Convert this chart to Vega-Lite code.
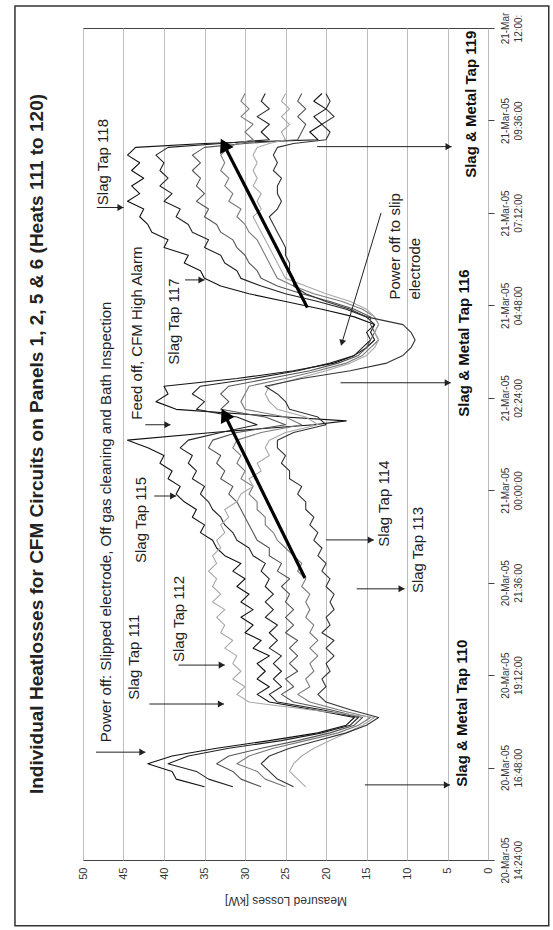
{
"$schema": "https://vega.github.io/schema/vega-lite/v6.json",
"width": 405, "height": 832,
"autosize": "none",
"padding": {"left": 83, "top": 28, "right": 65, "bottom": 70},
"background": "white",
"title": {"text": "Individual Heatlosses for CFM Circuits on Panels 1, 2, 5 & 6 (Heats 111 to 120)", "orient": "left", "anchor": "middle", "frame": "group", "offset": -33, "fontSize": 19, "fontWeight": "bold", "font": "Liberation Sans", "color": "#222"},
"config": {"view": {"stroke": "#444", "strokeWidth": 1}, "font": "Liberation Sans"},
"datasets": {
"series": [
{"s":"A","h":1.9,"v":35},{"s":"A","h":2.1,"v":38.5},{"s":"A","h":2.3,"v":39},{"s":"A","h":2.5,"v":42},{"s":"A","h":2.7,"v":39},{"s":"A","h":2.9,"v":33.5},{"s":"A","h":3.1,"v":27},{"s":"A","h":3.3,"v":21},{"s":"A","h":3.5,"v":17.5},{"s":"A","h":3.7,"v":16.5},{"s":"A","h":3.9,"v":21.5},{"s":"A","h":4.1,"v":27},{"s":"A","h":4.3,"v":28.5},{"s":"A","h":4.5,"v":27},{"s":"A","h":4.7,"v":28.5},{"s":"A","h":4.9,"v":27.5},{"s":"A","h":5.1,"v":28.5},{"s":"A","h":5.3,"v":27},{"s":"A","h":5.5,"v":29},{"s":"A","h":5.7,"v":28},{"s":"A","h":5.9,"v":30},{"s":"A","h":6.1,"v":29},{"s":"A","h":6.3,"v":30.5},{"s":"A","h":6.5,"v":29},{"s":"A","h":6.7,"v":30.5},{"s":"A","h":6.9,"v":29.5},{"s":"A","h":7.1,"v":31},{"s":"A","h":7.3,"v":30},{"s":"A","h":7.5,"v":31.5},{"s":"A","h":7.7,"v":30.5},{"s":"A","h":7.9,"v":32.5},{"s":"A","h":8.1,"v":33.5},{"s":"A","h":8.3,"v":34},{"s":"A","h":8.5,"v":35.5},{"s":"A","h":8.7,"v":35},{"s":"A","h":8.9,"v":36.5},{"s":"A","h":9.1,"v":36},{"s":"A","h":9.3,"v":37.5},{"s":"A","h":9.5,"v":38.5},{"s":"A","h":9.7,"v":38},{"s":"A","h":9.9,"v":39.5},{"s":"A","h":10.1,"v":39},{"s":"A","h":10.3,"v":40.5},{"s":"A","h":10.5,"v":40},{"s":"A","h":10.7,"v":42},{"s":"A","h":10.9,"v":44.5},{"s":"A","h":11.1,"v":34},{"s":"A","h":11.3,"v":21.5},{"s":"A","h":11.4,"v":17.5},{"s":"A","h":11.5,"v":25},{"s":"A","h":11.7,"v":38.5},{"s":"A","h":11.9,"v":41},{"s":"A","h":12.1,"v":39.5},{"s":"A","h":12.3,"v":40},{"s":"A","h":12.5,"v":31},{"s":"A","h":12.7,"v":24},{"s":"A","h":12.9,"v":19},{"s":"A","h":13.1,"v":16.5},{"s":"A","h":13.3,"v":15},{"s":"A","h":13.5,"v":14},{"s":"A","h":13.7,"v":14.5},{"s":"A","h":13.9,"v":14},{"s":"A","h":14.1,"v":16.5},{"s":"A","h":14.3,"v":20.5},{"s":"A","h":14.5,"v":25},{"s":"A","h":14.7,"v":29.5},{"s":"A","h":14.9,"v":33},{"s":"A","h":15.1,"v":35},{"s":"A","h":15.3,"v":35.5},{"s":"A","h":15.5,"v":37.5},{"s":"A","h":15.7,"v":37},{"s":"A","h":15.9,"v":40},{"s":"A","h":16.1,"v":39.5},{"s":"A","h":16.3,"v":41.5},{"s":"A","h":16.5,"v":42},{"s":"A","h":16.7,"v":43},{"s":"A","h":16.9,"v":42.5},{"s":"A","h":17.1,"v":44.5},{"s":"A","h":17.3,"v":43},{"s":"A","h":17.5,"v":44},{"s":"A","h":17.7,"v":42.5},{"s":"A","h":17.9,"v":44},{"s":"A","h":18.1,"v":43},{"s":"A","h":18.3,"v":44.5},{"s":"A","h":18.5,"v":43.5},{"s":"A","h":18.6,"v":35},{"s":"A","h":18.7,"v":21},{"s":"A","h":18.9,"v":22},{"s":"A","h":19.1,"v":20.5},{"s":"A","h":19.3,"v":21.5},{"s":"A","h":19.5,"v":20},{"s":"A","h":19.7,"v":21.5},{"s":"A","h":19.9,"v":20.5},
{"s":"B","h":1.9,"v":31.5},{"s":"B","h":2.1,"v":34.5},{"s":"B","h":2.3,"v":36},{"s":"B","h":2.5,"v":39.5},{"s":"B","h":2.7,"v":37},{"s":"B","h":2.9,"v":32},{"s":"B","h":3.1,"v":25.5},{"s":"B","h":3.3,"v":20.5},{"s":"B","h":3.5,"v":17},{"s":"B","h":3.7,"v":16},{"s":"B","h":3.9,"v":20.5},{"s":"B","h":4.1,"v":26},{"s":"B","h":4.3,"v":27},{"s":"B","h":4.5,"v":25.5},{"s":"B","h":4.7,"v":26.5},{"s":"B","h":4.9,"v":25.5},{"s":"B","h":5.1,"v":26.5},{"s":"B","h":5.3,"v":25.5},{"s":"B","h":5.5,"v":27},{"s":"B","h":5.7,"v":26},{"s":"B","h":5.9,"v":27},{"s":"B","h":6.1,"v":26},{"s":"B","h":6.3,"v":27.5},{"s":"B","h":6.5,"v":26.5},{"s":"B","h":6.7,"v":27.5},{"s":"B","h":6.9,"v":26.5},{"s":"B","h":7.1,"v":27.5},{"s":"B","h":7.3,"v":27},{"s":"B","h":7.5,"v":28},{"s":"B","h":7.7,"v":27.5},{"s":"B","h":7.9,"v":29},{"s":"B","h":8.1,"v":29.5},{"s":"B","h":8.3,"v":31},{"s":"B","h":8.5,"v":31.5},{"s":"B","h":8.7,"v":32.5},{"s":"B","h":8.9,"v":33},{"s":"B","h":9.1,"v":34},{"s":"B","h":9.3,"v":34.5},{"s":"B","h":9.5,"v":35.5},{"s":"B","h":9.7,"v":35},{"s":"B","h":9.9,"v":36.5},{"s":"B","h":10.1,"v":36},{"s":"B","h":10.3,"v":37},{"s":"B","h":10.5,"v":36.5},{"s":"B","h":10.7,"v":38},{"s":"B","h":10.9,"v":37},{"s":"B","h":11.1,"v":33},{"s":"B","h":11.3,"v":28.5},{"s":"B","h":11.5,"v":31},{"s":"B","h":11.7,"v":36},{"s":"B","h":11.9,"v":35},{"s":"B","h":12.1,"v":36.5},{"s":"B","h":12.3,"v":35.5},{"s":"B","h":12.5,"v":29},{"s":"B","h":12.7,"v":23.5},{"s":"B","h":12.9,"v":19.5},{"s":"B","h":13.1,"v":16.5},{"s":"B","h":13.3,"v":15.5},{"s":"B","h":13.5,"v":14.5},{"s":"B","h":13.7,"v":15},{"s":"B","h":13.9,"v":14},{"s":"B","h":14.1,"v":15},{"s":"B","h":14.3,"v":17.5},{"s":"B","h":14.5,"v":21},{"s":"B","h":14.7,"v":25},{"s":"B","h":14.9,"v":28},{"s":"B","h":15.1,"v":30.5},{"s":"B","h":15.3,"v":31},{"s":"B","h":15.5,"v":32.5},{"s":"B","h":15.7,"v":33},{"s":"B","h":15.9,"v":35},{"s":"B","h":16.1,"v":34.5},{"s":"B","h":16.3,"v":36.5},{"s":"B","h":16.5,"v":37},{"s":"B","h":16.7,"v":38.5},{"s":"B","h":16.9,"v":38},{"s":"B","h":17.1,"v":40},{"s":"B","h":17.3,"v":39},{"s":"B","h":17.5,"v":40.5},{"s":"B","h":17.7,"v":39.5},{"s":"B","h":17.9,"v":40.5},{"s":"B","h":18.1,"v":40},{"s":"B","h":18.3,"v":41},{"s":"B","h":18.5,"v":39.5},{"s":"B","h":18.6,"v":33},{"s":"B","h":18.7,"v":27},{"s":"B","h":18.9,"v":28},{"s":"B","h":19.1,"v":27},{"s":"B","h":19.3,"v":28.5},{"s":"B","h":19.5,"v":27},{"s":"B","h":19.7,"v":28},{"s":"B","h":19.9,"v":27.5},
{"s":"C","h":1.9,"v":28},{"s":"C","h":2.1,"v":30.5},{"s":"C","h":2.3,"v":31.5},{"s":"C","h":2.5,"v":33.5},{"s":"C","h":2.7,"v":32},{"s":"C","h":2.9,"v":28},{"s":"C","h":3.1,"v":23.5},{"s":"C","h":3.3,"v":19.5},{"s":"C","h":3.5,"v":16.5},{"s":"C","h":3.7,"v":15.5},{"s":"C","h":3.9,"v":19.5},{"s":"C","h":4.1,"v":24},{"s":"C","h":4.3,"v":25.5},{"s":"C","h":4.5,"v":24},{"s":"C","h":4.7,"v":25},{"s":"C","h":4.9,"v":23.5},{"s":"C","h":5.1,"v":24.5},{"s":"C","h":5.3,"v":23.5},{"s":"C","h":5.5,"v":24.5},{"s":"C","h":5.7,"v":23.5},{"s":"C","h":5.9,"v":25},{"s":"C","h":6.1,"v":24},{"s":"C","h":6.3,"v":25},{"s":"C","h":6.5,"v":24},{"s":"C","h":6.7,"v":25},{"s":"C","h":6.9,"v":24.5},{"s":"C","h":7.1,"v":25.5},{"s":"C","h":7.3,"v":24.5},{"s":"C","h":7.5,"v":26},{"s":"C","h":7.7,"v":25.5},{"s":"C","h":7.9,"v":27},{"s":"C","h":8.1,"v":27},{"s":"C","h":8.3,"v":28.5},{"s":"C","h":8.5,"v":29},{"s":"C","h":8.7,"v":29.5},{"s":"C","h":8.9,"v":30},{"s":"C","h":9.1,"v":30.5},{"s":"C","h":9.3,"v":31},{"s":"C","h":9.5,"v":32},{"s":"C","h":9.7,"v":31.5},{"s":"C","h":9.9,"v":33},{"s":"C","h":10.1,"v":32.5},{"s":"C","h":10.3,"v":33.5},{"s":"C","h":10.5,"v":33},{"s":"C","h":10.7,"v":34.5},{"s":"C","h":10.9,"v":34},{"s":"C","h":11.1,"v":31},{"s":"C","h":11.3,"v":25},{"s":"C","h":11.5,"v":27.5},{"s":"C","h":11.7,"v":33},{"s":"C","h":11.9,"v":32},{"s":"C","h":12.1,"v":33},{"s":"C","h":12.3,"v":32},{"s":"C","h":12.5,"v":27},{"s":"C","h":12.7,"v":22},{"s":"C","h":12.9,"v":18.5},{"s":"C","h":13.1,"v":16},{"s":"C","h":13.3,"v":15},{"s":"C","h":13.5,"v":14.5},{"s":"C","h":13.7,"v":14},{"s":"C","h":13.9,"v":14.5},{"s":"C","h":14.1,"v":14.5},{"s":"C","h":14.3,"v":16.5},{"s":"C","h":14.5,"v":19.5},{"s":"C","h":14.7,"v":23},{"s":"C","h":14.9,"v":26},{"s":"C","h":15.1,"v":28},{"s":"C","h":15.3,"v":28.5},{"s":"C","h":15.5,"v":29.5},{"s":"C","h":15.7,"v":30},{"s":"C","h":15.9,"v":31},{"s":"C","h":16.1,"v":31.5},{"s":"C","h":16.3,"v":33},{"s":"C","h":16.5,"v":33.5},{"s":"C","h":16.7,"v":35},{"s":"C","h":16.9,"v":34.5},{"s":"C","h":17.1,"v":36},{"s":"C","h":17.3,"v":35},{"s":"C","h":17.5,"v":36},{"s":"C","h":17.7,"v":35.5},{"s":"C","h":17.9,"v":36.5},{"s":"C","h":18.1,"v":35.5},{"s":"C","h":18.3,"v":36.5},{"s":"C","h":18.5,"v":35},{"s":"C","h":18.6,"v":30},{"s":"C","h":18.7,"v":23.5},{"s":"C","h":18.9,"v":23},{"s":"C","h":19.1,"v":22.5},{"s":"C","h":19.3,"v":23.5},{"s":"C","h":19.5,"v":22.5},{"s":"C","h":19.7,"v":23.5},{"s":"C","h":19.9,"v":23},
{"s":"D","h":1.9,"v":25},{"s":"D","h":2.1,"v":27.5},{"s":"D","h":2.3,"v":28.5},{"s":"D","h":2.5,"v":31},{"s":"D","h":2.7,"v":29.5},{"s":"D","h":2.9,"v":26.5},{"s":"D","h":3.1,"v":22.5},{"s":"D","h":3.3,"v":18.5},{"s":"D","h":3.5,"v":16},{"s":"D","h":3.7,"v":14.5},{"s":"D","h":3.9,"v":18.5},{"s":"D","h":4.1,"v":22},{"s":"D","h":4.3,"v":23.5},{"s":"D","h":4.5,"v":22},{"s":"D","h":4.7,"v":22.5},{"s":"D","h":4.9,"v":21.5},{"s":"D","h":5.1,"v":22},{"s":"D","h":5.3,"v":21},{"s":"D","h":5.5,"v":22},{"s":"D","h":5.7,"v":21},{"s":"D","h":5.9,"v":22},{"s":"D","h":6.1,"v":21.5},{"s":"D","h":6.3,"v":22.5},{"s":"D","h":6.5,"v":22},{"s":"D","h":6.7,"v":22.5},{"s":"D","h":6.9,"v":22},{"s":"D","h":7.1,"v":23},{"s":"D","h":7.3,"v":22.5},{"s":"D","h":7.5,"v":23.5},{"s":"D","h":7.7,"v":23},{"s":"D","h":7.9,"v":24},{"s":"D","h":8.1,"v":25},{"s":"D","h":8.3,"v":26},{"s":"D","h":8.5,"v":26.5},{"s":"D","h":8.7,"v":27.5},{"s":"D","h":8.9,"v":27.5},{"s":"D","h":9.1,"v":28.5},{"s":"D","h":9.3,"v":28.5},{"s":"D","h":9.5,"v":29.5},{"s":"D","h":9.7,"v":29},{"s":"D","h":9.9,"v":30.5},{"s":"D","h":10.1,"v":30},{"s":"D","h":10.3,"v":31},{"s":"D","h":10.5,"v":30.5},{"s":"D","h":10.7,"v":31.5},{"s":"D","h":10.9,"v":31},{"s":"D","h":11.1,"v":28},{"s":"D","h":11.3,"v":23},{"s":"D","h":11.5,"v":25},{"s":"D","h":11.7,"v":30},{"s":"D","h":11.9,"v":30.5},{"s":"D","h":12.1,"v":30},{"s":"D","h":12.3,"v":29.5},{"s":"D","h":12.5,"v":25},{"s":"D","h":12.7,"v":21},{"s":"D","h":12.9,"v":17.5},{"s":"D","h":13.1,"v":15.5},{"s":"D","h":13.3,"v":14.5},{"s":"D","h":13.5,"v":13.5},{"s":"D","h":13.7,"v":14},{"s":"D","h":13.9,"v":13.5},{"s":"D","h":14.1,"v":14},{"s":"D","h":14.3,"v":15.5},{"s":"D","h":14.5,"v":18},{"s":"D","h":14.7,"v":21.5},{"s":"D","h":14.9,"v":24},{"s":"D","h":15.1,"v":26},{"s":"D","h":15.3,"v":26.5},{"s":"D","h":15.5,"v":27},{"s":"D","h":15.7,"v":27.5},{"s":"D","h":15.9,"v":28},{"s":"D","h":16.1,"v":28.5},{"s":"D","h":16.3,"v":29.5},{"s":"D","h":16.5,"v":30},{"s":"D","h":16.7,"v":31},{"s":"D","h":16.9,"v":30.5},{"s":"D","h":17.1,"v":32},{"s":"D","h":17.3,"v":31.5},{"s":"D","h":17.5,"v":32.5},{"s":"D","h":17.7,"v":32},{"s":"D","h":17.9,"v":33},{"s":"D","h":18.1,"v":32.5},{"s":"D","h":18.3,"v":33},{"s":"D","h":18.5,"v":32},{"s":"D","h":18.6,"v":31},{"s":"D","h":18.7,"v":29},{"s":"D","h":18.9,"v":30},{"s":"D","h":19.1,"v":29},{"s":"D","h":19.3,"v":30.5},{"s":"D","h":19.5,"v":29.5},{"s":"D","h":19.7,"v":30.5},{"s":"D","h":19.9,"v":30},
{"s":"E","h":1.9,"v":22.5},{"s":"E","h":2.1,"v":23.5},{"s":"E","h":2.3,"v":24.5},{"s":"E","h":2.5,"v":24},{"s":"E","h":2.7,"v":23},{"s":"E","h":2.9,"v":21.5},{"s":"E","h":3.1,"v":19.5},{"s":"E","h":3.3,"v":17.5},{"s":"E","h":3.5,"v":15.5},{"s":"E","h":3.7,"v":14},{"s":"E","h":3.9,"v":22},{"s":"E","h":4.1,"v":29.5},{"s":"E","h":4.3,"v":31},{"s":"E","h":4.5,"v":30},{"s":"E","h":4.7,"v":31.5},{"s":"E","h":4.9,"v":30.5},{"s":"E","h":5.1,"v":31.5},{"s":"E","h":5.3,"v":31},{"s":"E","h":5.5,"v":32.5},{"s":"E","h":5.7,"v":31.5},{"s":"E","h":5.9,"v":33},{"s":"E","h":6.1,"v":32.5},{"s":"E","h":6.3,"v":33.5},{"s":"E","h":6.5,"v":32.5},{"s":"E","h":6.7,"v":34},{"s":"E","h":6.9,"v":33},{"s":"E","h":7.1,"v":34},{"s":"E","h":7.3,"v":33.5},{"s":"E","h":7.5,"v":34.5},{"s":"E","h":7.7,"v":33.5},{"s":"E","h":7.9,"v":34},{"s":"E","h":8.1,"v":33},{"s":"E","h":8.3,"v":33.5},{"s":"E","h":8.5,"v":32.5},{"s":"E","h":8.7,"v":33},{"s":"E","h":8.9,"v":32},{"s":"E","h":9.1,"v":32.5},{"s":"E","h":9.3,"v":31},{"s":"E","h":9.5,"v":30.5},{"s":"E","h":9.7,"v":29},{"s":"E","h":9.9,"v":29.5},{"s":"E","h":10.1,"v":28},{"s":"E","h":10.3,"v":28.5},{"s":"E","h":10.5,"v":27},{"s":"E","h":10.7,"v":27.5},{"s":"E","h":10.9,"v":27},{"s":"E","h":11.1,"v":25},{"s":"E","h":11.3,"v":21},{"s":"E","h":11.5,"v":22.5},{"s":"E","h":11.7,"v":26},{"s":"E","h":11.9,"v":27},{"s":"E","h":12.1,"v":27.5},{"s":"E","h":12.3,"v":27},{"s":"E","h":12.5,"v":23.5},{"s":"E","h":12.7,"v":20},{"s":"E","h":12.9,"v":17},{"s":"E","h":13.1,"v":15},{"s":"E","h":13.3,"v":14},{"s":"E","h":13.5,"v":13.5},{"s":"E","h":13.7,"v":14},{"s":"E","h":13.9,"v":13.5},{"s":"E","h":14.1,"v":14},{"s":"E","h":14.3,"v":15},{"s":"E","h":14.5,"v":17},{"s":"E","h":14.7,"v":20},{"s":"E","h":14.9,"v":22.5},{"s":"E","h":15.1,"v":25},{"s":"E","h":15.3,"v":25.5},{"s":"E","h":15.5,"v":26},{"s":"E","h":15.7,"v":26.5},{"s":"E","h":15.9,"v":27},{"s":"E","h":16.1,"v":27.5},{"s":"E","h":16.3,"v":28},{"s":"E","h":16.5,"v":28.5},{"s":"E","h":16.7,"v":29},{"s":"E","h":16.9,"v":28},{"s":"E","h":17.1,"v":28.5},{"s":"E","h":17.3,"v":28},{"s":"E","h":17.5,"v":29},{"s":"E","h":17.7,"v":28.5},{"s":"E","h":17.9,"v":29},{"s":"E","h":18.1,"v":28.5},{"s":"E","h":18.3,"v":29},{"s":"E","h":18.5,"v":28.5},{"s":"E","h":18.6,"v":27},{"s":"E","h":18.7,"v":25},{"s":"E","h":18.9,"v":25.5},{"s":"E","h":19.1,"v":24.5},{"s":"E","h":19.3,"v":25.5},{"s":"E","h":19.5,"v":24.5},{"s":"E","h":19.7,"v":25.5},{"s":"E","h":19.9,"v":25},
{"s":"F","h":1.9,"v":24},{"s":"F","h":2.1,"v":26},{"s":"F","h":2.3,"v":27},{"s":"F","h":2.5,"v":28},{"s":"F","h":2.7,"v":27},{"s":"F","h":2.9,"v":24.5},{"s":"F","h":3.1,"v":21},{"s":"F","h":3.3,"v":17.5},{"s":"F","h":3.5,"v":15},{"s":"F","h":3.7,"v":13.5},{"s":"F","h":3.9,"v":17},{"s":"F","h":4.1,"v":20},{"s":"F","h":4.3,"v":21},{"s":"F","h":4.5,"v":20},{"s":"F","h":4.7,"v":20.5},{"s":"F","h":4.9,"v":19.5},{"s":"F","h":5.1,"v":20},{"s":"F","h":5.3,"v":19},{"s":"F","h":5.5,"v":20},{"s":"F","h":5.7,"v":19},{"s":"F","h":5.9,"v":20.5},{"s":"F","h":6.1,"v":19.5},{"s":"F","h":6.3,"v":20},{"s":"F","h":6.5,"v":19},{"s":"F","h":6.7,"v":19.5},{"s":"F","h":6.9,"v":19},{"s":"F","h":7.1,"v":20},{"s":"F","h":7.3,"v":19.5},{"s":"F","h":7.5,"v":20.5},{"s":"F","h":7.7,"v":20},{"s":"F","h":7.9,"v":21},{"s":"F","h":8.1,"v":20.5},{"s":"F","h":8.3,"v":21.5},{"s":"F","h":8.5,"v":21},{"s":"F","h":8.7,"v":22},{"s":"F","h":8.9,"v":21.5},{"s":"F","h":9.1,"v":22.5},{"s":"F","h":9.3,"v":22.5},{"s":"F","h":9.5,"v":23.5},{"s":"F","h":9.7,"v":23},{"s":"F","h":9.9,"v":24.5},{"s":"F","h":10.1,"v":24.5},{"s":"F","h":10.3,"v":25.5},{"s":"F","h":10.5,"v":25},{"s":"F","h":10.7,"v":26},{"s":"F","h":10.9,"v":26},{"s":"F","h":11.1,"v":24},{"s":"F","h":11.3,"v":20},{"s":"F","h":11.5,"v":21},{"s":"F","h":11.7,"v":24.5},{"s":"F","h":11.9,"v":25},{"s":"F","h":12.1,"v":26},{"s":"F","h":12.3,"v":27.5},{"s":"F","h":12.5,"v":23},{"s":"F","h":12.7,"v":17},{"s":"F","h":12.9,"v":12.5},{"s":"F","h":13.1,"v":10.5},{"s":"F","h":13.3,"v":9.5},{"s":"F","h":13.5,"v":9},{"s":"F","h":13.7,"v":9.5},{"s":"F","h":13.9,"v":10.5},{"s":"F","h":14.1,"v":15},{"s":"F","h":14.3,"v":17},{"s":"F","h":14.5,"v":20},{"s":"F","h":14.7,"v":22.5},{"s":"F","h":14.9,"v":24},{"s":"F","h":15.1,"v":24},{"s":"F","h":15.3,"v":24.5},{"s":"F","h":15.5,"v":24.5},{"s":"F","h":15.7,"v":25},{"s":"F","h":15.9,"v":25},{"s":"F","h":16.1,"v":25.5},{"s":"F","h":16.3,"v":26},{"s":"F","h":16.5,"v":26.5},{"s":"F","h":16.7,"v":27},{"s":"F","h":16.9,"v":26},{"s":"F","h":17.1,"v":25.5},{"s":"F","h":17.3,"v":26},{"s":"F","h":17.5,"v":26},{"s":"F","h":17.7,"v":25.5},{"s":"F","h":17.9,"v":26.5},{"s":"F","h":18.1,"v":26},{"s":"F","h":18.3,"v":26.5},{"s":"F","h":18.5,"v":26},{"s":"F","h":18.6,"v":24},{"s":"F","h":18.7,"v":20},{"s":"F","h":18.9,"v":19.5},{"s":"F","h":19.1,"v":20.5},{"s":"F","h":19.3,"v":19},{"s":"F","h":19.5,"v":20},{"s":"F","h":19.7,"v":19.5},{"s":"F","h":19.9,"v":20}
],
"arrows": [
{"id":"a1","k":"h","v":48.4,"h":2.8,"v2":42.3,"h2":2.8},
{"id":"a2","k":"h","v":41.8,"h":4.05,"v2":32.6,"h2":4.05},
{"id":"a3","k":"h","v":38.2,"h":5.06,"v2":32.5,"h2":5.06},
{"id":"a4","k":"h","v":16.2,"h":7.04,"v2":10.3,"h2":7.04},
{"id":"a5","k":"h","v":20.0,"h":8.31,"v2":14.1,"h2":8.31},
{"id":"a6","k":"h","v":41.2,"h":9.45,"v2":38.5,"h2":9.45},
{"id":"a7","k":"h","v":42.3,"h":11.3,"v2":39.2,"h2":11.3},
{"id":"a8","k":"h","v":37.4,"h":15.06,"v2":35.0,"h2":15.06},
{"id":"a9","k":"h","v":48.3,"h":16.94,"v2":45.0,"h2":16.94},
{"id":"a10","k":"h","v":15.2,"h":1.95,"v2":4.7,"h2":1.95},
{"id":"a11","k":"h","v":18.2,"h":12.39,"v2":4.6,"h2":12.39},
{"id":"a12","k":"h","v":21.1,"h":18.52,"v2":4.5,"h2":18.52},
{"id":"d1","k":"d","v":13.2,"h":16.8,"v2":18.1,"h2":13.38},
{"id":"t1","k":"t","v":22.6,"h":7.32,"v2":32.7,"h2":11.64},
{"id":"t2","k":"t","v":22.3,"h":14.34,"v2":32.8,"h2":18.65}
],
"notes": [
{"k":"n","t":"Power off: Slipped electrode, Off gas cleaning and Bath Inspection","v":47.2,"h":3.06},
{"k":"n","t":"Slag Tap 111","v":43.7,"h":4.16},
{"k":"n","t":"Slag Tap 112","v":38.1,"h":5.14},
{"k":"n","t":"Slag Tap 113","v":8.6,"h":6.93},
{"k":"n","t":"Slag Tap 114","v":12.9,"h":8.13},
{"k":"n","t":"Slag Tap 115","v":42.9,"h":7.71},
{"k":"n","t":"Feed off, CFM High Alarm","v":43.3,"h":11.43},
{"k":"n","t":"Slag Tap 117","v":38.8,"h":12.86},
{"k":"n","t":"Slag Tap 118","v":47.5,"h":17.0},
{"k":"n","t":"Power off to slip","v":11.5,"h":14.55},
{"k":"n","t":"electrode","v":9.0,"h":14.55},
{"k":"b","t":"Slag & Metal Tap 110","v":3.2,"h":1.9},
{"k":"b","t":"Slag & Metal Tap 116","v":3.0,"h":11.51},
{"k":"b","t":"Slag & Metal Tap 119","v":2.1,"h":17.71}
]
},
"layer": [
{"data": {"name": "series"},
 "mark": {"type": "line", "strokeJoin": "round"},
 "encoding": {
  "x": {"field": "v", "type": "quantitative", "scale": {"domain": [0, 50], "reverse": true, "nice": false, "zero": false},
   "axis": {"orient": "bottom", "values": [0,5,10,15,20,25,30,35,40,45,50], "grid": true, "gridColor": "#bdbdbd", "gridWidth": 1, "domain": false, "ticks": false, "tickSize": 0, "labelAngle": 270, "labelAlign": "right", "labelBaseline": "middle", "labelPadding": 7, "labelFontSize": 11, "labelColor": "#333", "labelFont": "Liberation Sans", "labelFlush": false, "labelOverlap": false, "title": "Measured Losses [kW]", "titleAngle": 180, "titleBaseline": "bottom", "titleFontWeight": "normal", "titleFontSize": 12, "titlePadding": 14, "titleColor": "#333", "titleFont": "Liberation Sans"}},
  "y": {"field": "h", "type": "quantitative", "scale": {"domain": [0, 21.6], "nice": false, "zero": false},
   "axis": {"orient": "right", "values": [0,2.4,4.8,7.2,9.6,12,14.4,16.8,19.2,21.6], "grid": false, "domain": false, "ticks": true, "tickSize": 6, "tickColor": "#444", "labelAngle": 270,
    "labelAlign": "center",
    "labelBaseline": "top", "labelPadding": 6, "labelFontSize": 10, "labelLineHeight": 13, "labelFont": "Liberation Sans Narrow, Liberation Sans", "labelColor": "#333", "labelOverlap": false, "labelFlush": false, "title": null,
    "labelExpr": "[['20-Mar-05','14:24:00'],['20-Mar-05','16:48:00'],['20-Mar-05','19:12:00'],['20-Mar-05','21:36:00'],['21-Mar-05','00:00:00'],['21-Mar-05','02:24:00'],['21-Mar-05','04:48:00'],['21-Mar-05','07:12:00'],['21-Mar-05','09:36:00'],['21-Mar','12:00:']][round(datum.value/2.4)]"}},
  "order": {"field": "h", "type": "quantitative"},
  "color": {"field": "s", "type": "nominal", "scale": {"domain": ["E","D","C","F","B","A"], "range": ["#a8a8a8","#7a7a7a","#555555","#333333","#222222","#111111"]}, "legend": null},
  "strokeWidth": {"field": "s", "type": "nominal", "scale": {"domain": ["E","D","C","F","B","A"], "range": [1.1,1.1,1.1,1.1,1.2,1.6]}, "legend": null}
 }},
{"data": {"name": "arrows"}, "transform": [{"filter": "datum.k != 't'"}],
 "mark": {"type": "rule", "color": "#222", "strokeWidth": 1},
 "encoding": {"x": {"field": "v", "type": "quantitative", "title": "Measured Losses [kW]"},
  "y": {"field": "h", "type": "quantitative", "title": null},
  "x2": {"field": "v2"}, "y2": {"field": "h2"}}},
{"data": {"name": "arrows"}, "transform": [{"filter": "datum.k == 't'"}],
 "mark": {"type": "rule", "color": "#000", "strokeWidth": 3.2},
 "encoding": {"x": {"field": "v", "type": "quantitative", "title": "Measured Losses [kW]"},
  "y": {"field": "h", "type": "quantitative", "title": null},
  "x2": {"field": "v2"}, "y2": {"field": "h2"}}},
{"data": {"name": "arrows"}, "transform": [{"filter": "datum.k == 'h'"}],
 "mark": {"type": "point", "shape": "triangle-right", "filled": true, "size": 50, "color": "#222", "opacity": 1, "xOffset": -3},
 "encoding": {"x": {"field": "v2", "type": "quantitative", "title": "Measured Losses [kW]"},
  "y": {"field": "h2", "type": "quantitative", "title": null}}},
{"data": {"name": "arrows"}, "transform": [{"filter": "datum.k == 'd'"}],
 "mark": {"type": "point", "shape": "triangle", "filled": true, "size": 50, "color": "#222", "opacity": 1, "angle": 196, "xOffset": 0.8, "yOffset": -2.8},
 "encoding": {"x": {"field": "v2", "type": "quantitative", "title": "Measured Losses [kW]"},
  "y": {"field": "h2", "type": "quantitative", "title": null}}},
{"data": {"name": "arrows"}, "transform": [{"filter": "datum.k == 't'"}],
 "mark": {"type": "point", "shape": "triangle", "filled": true, "size": 230, "color": "#000", "opacity": 1, "angle": 333, "xOffset": 2.5, "yOffset": 5},
 "encoding": {"x": {"field": "v2", "type": "quantitative", "title": "Measured Losses [kW]"},
  "y": {"field": "h2", "type": "quantitative", "title": null}}},
{"data": {"name": "notes"}, "transform": [{"filter": "datum.k == 'n'"}],
 "mark": {"type": "text", "angle": 270, "align": "left", "baseline": "middle", "fontSize": 15, "font": "Liberation Sans", "color": "#222"},
 "encoding": {"x": {"field": "v", "type": "quantitative", "title": "Measured Losses [kW]"},
  "y": {"field": "h", "type": "quantitative", "title": null},
  "text": {"field": "t"}}},
{"data": {"name": "notes"}, "transform": [{"filter": "datum.k == 'b'"}],
 "mark": {"type": "text", "angle": 270, "align": "left", "baseline": "middle", "fontSize": 15, "fontWeight": "bold", "font": "Liberation Sans", "color": "#111"},
 "encoding": {"x": {"field": "v", "type": "quantitative", "title": "Measured Losses [kW]"},
  "y": {"field": "h", "type": "quantitative", "title": null},
  "text": {"field": "t"}}},
{"data": {"values": [{}]},
 "mark": {"type": "rect", "fillOpacity": 0, "stroke": "#333", "strokeWidth": 1.5},
 "encoding": {"x": {"datum": 58.4, "type": "quantitative", "title": "Measured Losses [kW]"}, "x2": {"datum": -7.5},
  "y": {"datum": -1.71, "type": "quantitative", "title": null}, "y2": {"datum": 22.17}}}
]
}
